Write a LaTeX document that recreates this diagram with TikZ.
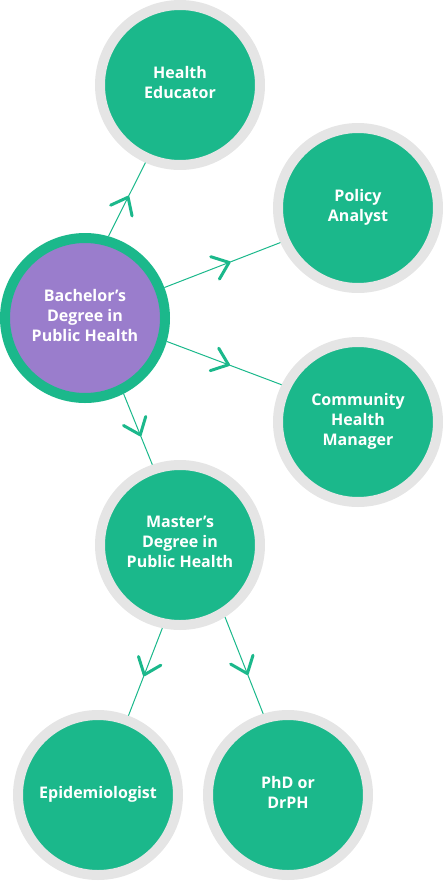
\documentclass[tikz,border=0pt]{standalone}
\usepackage{fontspec}
\setmainfont{Open Sans}
\usepackage{tikz}
\usetikzlibrary{arrows.meta, decorations.markings}
\usepackage{xcolor}
\definecolor{gg}{HTML}{1BB88B}
\definecolor{pp}{HTML}{9A7DCC}
\definecolor{rr}{HTML}{E5E5E5}

\begin{document}
\begin{tikzpicture}[x=1pt, y=-1pt, font=\fontsize{16}{20}\selectfont\bfseries,
    job/.style={circle, draw=rr, line width=10pt, fill=#1, minimum size=160pt, inner sep=0pt, text depth=6pt, text=white, align=center},
    job/.default=gg,
    link/.style={gg, line width=1pt, postaction={decorate},
      decoration={markings, mark=at position #1 with {\arrow{Straight Barb[length=15pt, width=24pt, line width=3pt, round]}}}},
    link/.default=0.55]
  \useasboundingbox (0,0) rectangle (443,881);

  \node[job, draw=gg, fill=pp] (bach) at (85,318) {Bachelor’s\\Degree in\\Public Health};
  \node[job] (educ) at (180,85) {Health\\Educator};
  \node[job] (poli) at (358,208) {Policy\\Analyst};
  \node[job] (comm) at (358,422) {Community\\Health\\Manager};
  \node[job] (mast) at (180,545) {Master’s\\Degree in\\Public Health};
  \node[job] (epid) at (98,795) {Epidemiologist};
  \node[job] (phd) at (288,795) {PhD or\\DrPH};

  \draw[link] (bach.74) -- (educ.246);
  \draw[link=0.57] (bach.21) -- (poli.204);
  \draw[link] (bach.344) -- (comm.154);
  \draw[link=0.6] (bach.297) -- (mast.109);
  \draw[link] (mast.258) -- (epid.69);
  \draw[link=0.6] (mast.302) -- (phd.107);
\end{tikzpicture}
\end{document}
